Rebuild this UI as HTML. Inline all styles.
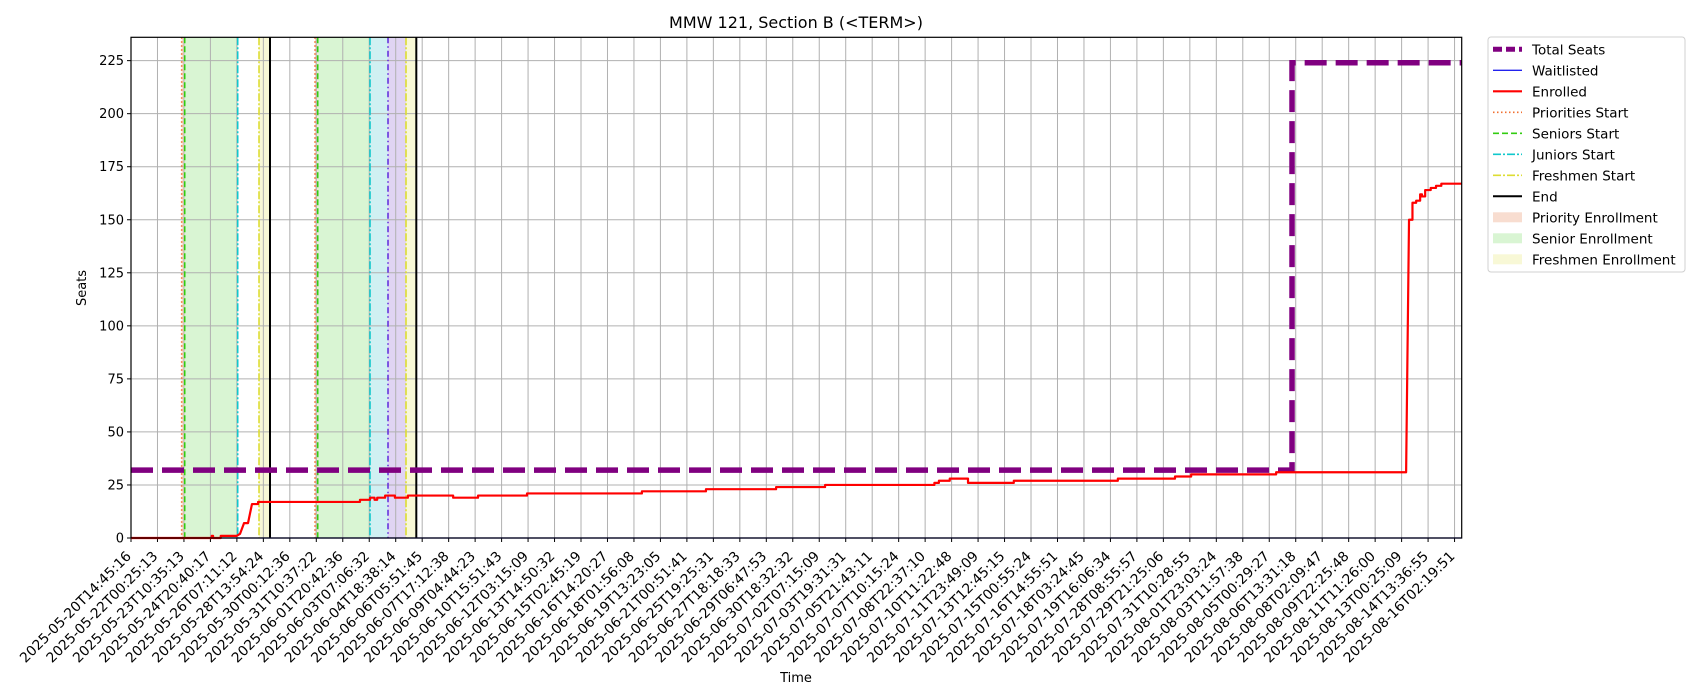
<!DOCTYPE html>
<html><head><meta charset="utf-8"><style>
html,body{margin:0;padding:0;background:#fff;}
svg{display:block;font-family:"DejaVu Sans","Liberation Sans",sans-serif;}
</style></head><body>
<svg id="chart" width="1700" height="700" viewBox="0 0 1700 700" xmlns="http://www.w3.org/2000/svg">
<text x="796" y="28" font-size="16" text-anchor="middle">MMW 121, Section B (&lt;TERM&gt;)</text>
<text x="0" y="0" font-size="13" text-anchor="middle" transform="translate(86,288) rotate(-90)">Seats</text>
<text x="796" y="682" font-size="13" text-anchor="middle">Time</text>
<g id="plot"></g>
<g id="legend"></g>
</svg>
<script>
const tickLabels=["2025-05-20T14:45:16","2025-05-22T00:25:13","2025-05-23T10:35:13","2025-05-24T20:40:17","2025-05-26T07:11:12","2025-05-28T13:54:24","2025-05-30T00:12:36","2025-05-31T10:37:22","2025-06-01T20:42:36","2025-06-03T07:06:32","2025-06-04T18:38:14","2025-06-06T05:51:45","2025-06-07T17:12:38","2025-06-09T04:44:23","2025-06-10T15:51:43","2025-06-12T03:15:09","2025-06-13T14:50:32","2025-06-15T02:45:19","2025-06-16T14:20:27","2025-06-18T01:56:08","2025-06-19T13:23:05","2025-06-21T00:51:41","2025-06-25T19:25:31","2025-06-27T18:18:33","2025-06-29T06:47:53","2025-06-30T18:32:32","2025-07-02T07:15:09","2025-07-03T19:31:31","2025-07-05T21:43:11","2025-07-07T10:15:24","2025-07-08T22:37:10","2025-07-10T11:22:48","2025-07-11T23:49:09","2025-07-13T12:45:15","2025-07-15T00:55:24","2025-07-16T14:55:51","2025-07-18T03:24:45","2025-07-19T16:06:34","2025-07-28T08:55:57","2025-07-29T21:25:06","2025-07-31T10:28:55","2025-08-01T23:03:24","2025-08-03T11:57:38","2025-08-05T00:29:27","2025-08-06T13:31:18","2025-08-08T02:09:47","2025-08-09T22:25:48","2025-08-11T11:26:00","2025-08-13T00:25:09","2025-08-14T13:36:55","2025-08-16T02:19:51"];
const yTicks=[0,25,50,75,100,125,150,175,200,225];
const enrolledX=[0,3.05,3.1,3.39,3.99,4.12,4.27,4.42,4.57,4.8,8.65,9.03,9.2,9.3,9.4,9.6,9.82,9.97,10.46,12.17,13.11,14.96,19.3,21.72,24.37,26.22,30.35,30.52,30.93,31.62,33.35,37.28,39.44,40.05,43.26,48.17,48.28,48.41,48.55,48.7,48.77,48.89,49.1,49.3,49.5,50.27];
const enrolledY=[0,1,0,1,1,2,7,7,16,17,18,19,18,19,19,20,20,19,20,19,20,21,22,23,24,25,26,27,28,26,27,28,29,30,31,31,150,158,159,162,161,164,165,166,167,167];
const totalX=[0,43.86,50.27];
const totalY=[32,224,224];
const waitX=[0,50.27];
const waitY=[0,0];
const prioStart=[1.915,6.951];
const seniorStart=[2.029,7.053];
const juniorStart=[4.031,9.029];
const freshStart=[4.836,10.389];
const endLines=[5.251,10.778];
const extraStart=[9.709];

const L=131,R=1461.7,T=37.3,B=538,XMAX=50.27,YMAX=236;
const sx=u=>L+u*(R-L)/XMAX;
const sy=v=>B-v*(B-T)/YMAX;
const NS="http://www.w3.org/2000/svg";
const plot=document.getElementById('plot');
function mk(tag,attrs,parent){const e=document.createElementNS(NS,tag);for(const k in attrs)e.setAttribute(k,attrs[k]);(parent||plot).appendChild(e);return e;}

for(let i=0;i<2;i++){
  let r=mk('rect',{x:sx(prioStart[i]),y:T,width:sx(seniorStart[i])-sx(prioStart[i]),height:B-T,fill:'#f4c7b0',opacity:0.6});
  
  
  r=mk('rect',{x:sx(seniorStart[i]),y:T,width:sx(juniorStart[i])-sx(seniorStart[i]),height:B-T,fill:'#d9f5d3'});
  
  
  r=mk('rect',{x:sx(freshStart[i]),y:T,width:sx(endLines[i])-sx(freshStart[i]),height:B-T,fill:'#f8f8d6'});
  
  
}
let r2=mk('rect',{x:sx(juniorStart[1]),y:T,width:sx(extraStart[0])-sx(juniorStart[1]),height:B-T,fill:'#d0f0f2'});


r2=mk('rect',{x:sx(extraStart[0]),y:T,width:sx(freshStart[1])-sx(extraStart[0]),height:B-T,fill:'#e0d4f3'});



tickLabels.forEach((lab,i)=>{
  const x=sx(i);
  let g=mk('line',{x1:x,x2:x,y1:T,y2:B,stroke:'#b0b0b0','stroke-width':1});
  
  
  let t=mk('line',{x1:x,x2:x,y1:B,y2:B+4,stroke:'#000','stroke-width':1});
  
  
  let tx=mk('text',{x:0,y:0,'font-size':13.8,'text-anchor':'end',transform:`translate(${x+1},${B+19}) rotate(-45)`});
  tx.textContent=lab;
  
  
});
yTicks.forEach(v=>{
  const y=sy(v);
  let g=mk('line',{x1:L,x2:R,y1:y,y2:y,stroke:'#b0b0b0','stroke-width':1});
  
  
  let t=mk('line',{x1:L-4,x2:L,y1:y,y2:y,stroke:'#000','stroke-width':1});
  
  
  let tx=mk('text',{x:L-7,y:y+4.5,'font-size':13,'text-anchor':'end'});
  tx.textContent=v;
  
  
});

function vline(u,color,dash,w,name){
  const l=mk('line',{x1:sx(u),x2:sx(u),y1:T,y2:B,stroke:color,'stroke-width':w,'stroke-dasharray':dash});
  
  
}
prioStart.forEach(u=>vline(u,'#f07030','1.5 2.5',1.6,'priorities-start-line'));
seniorStart.forEach(u=>vline(u,'#33cc11','6 3',1.6,'seniors-start-line'));
juniorStart.forEach(u=>vline(u,'#11c8cc','8 2 2 2',1.6,'juniors-start-line'));
extraStart.forEach(u=>vline(u,'#6633dd','6 3 1.5 3',1.6,'sophomores-start-line'));
freshStart.forEach(u=>vline(u,'#dddd33','8 2 2 2',1.6,'freshmen-start-line'));
endLines.forEach(u=>vline(u,'#000','',2,'end-line'));

function stepPath(xs,ys){
  let d=`M${sx(xs[0])},${sy(ys[0])}`;
  for(let i=1;i<xs.length;i++){d+=`L${sx(xs[i])},${sy(ys[i-1])}L${sx(xs[i])},${sy(ys[i])}`;}
  return d;
}
let p=mk('path',{d:stepPath(waitX,waitY),fill:'none',stroke:'#2222ee','stroke-width':1.3});


p=mk('path',{d:stepPath(totalX,totalY),fill:'none',stroke:'#800080','stroke-width':5.5,'stroke-dasharray':'22 9'});


let d=`M${sx(enrolledX[0])},${sy(enrolledY[0])}`;
for(let i=1;i<enrolledX.length;i++){
  const dv=Math.abs(enrolledY[i]-enrolledY[i-1]);
  if(dv>20||(enrolledX[i]>4.1&&enrolledX[i]<4.8)) d+=`L${sx(enrolledX[i])},${sy(enrolledY[i])}`;
  else d+=`L${sx(enrolledX[i])},${sy(enrolledY[i-1])}L${sx(enrolledX[i])},${sy(enrolledY[i])}`;
}
p=mk('path',{d:d,fill:'none',stroke:'#ff0000','stroke-width':2.2,'stroke-linejoin':'round'});



let fr=mk('rect',{x:L,y:T,width:R-L,height:B-T,fill:'none',stroke:'#000','stroke-width':1.2});



const lg=document.getElementById('legend');
mk('rect',{x:1488,y:37,width:197,height:235,rx:3,fill:'#fff',stroke:'#d0d0d0','stroke-width':1},lg);
const entries=[
 ['Total Seats','line','#800080',5,'9 4'],
 ['Waitlisted','line','#2222ee',1.3,''],
 ['Enrolled','line','#ff0000',2.2,''],
 ['Priorities Start','line','#f07030',1.6,'1.5 2.5'],
 ['Seniors Start','line','#33cc11',1.6,'6 3'],
 ['Juniors Start','line','#11c8cc',1.6,'8 2 2 2'],
 ['Freshmen Start','line','#dddd33',1.6,'8 2 2 2'],
 ['End','line','#000',2,''],
 ['Priority Enrollment','patch','#f4c7b0'],
 ['Senior Enrollment','patch','#d9f5d3'],
 ['Freshmen Enrollment','patch','#f8f8d6']
];
entries.forEach((e,i)=>{
  const y=49.3+i*21;
  const g=mk('g',{},lg);
  
  
  if(e[1]==='line') mk('line',{x1:1493,x2:1522,y1:y,y2:y,stroke:e[2],'stroke-width':e[3],'stroke-dasharray':e[4]},g);
  else mk('rect',{x:1493,y:y-5,width:29,height:10,fill:e[2],opacity:e[2]==='#f4c7b0'?0.6:1},g);
  const t=mk('text',{x:1532,y:y+5,'font-size':13.5},g);
  t.textContent=e[0];
});
</script>
</body></html>
